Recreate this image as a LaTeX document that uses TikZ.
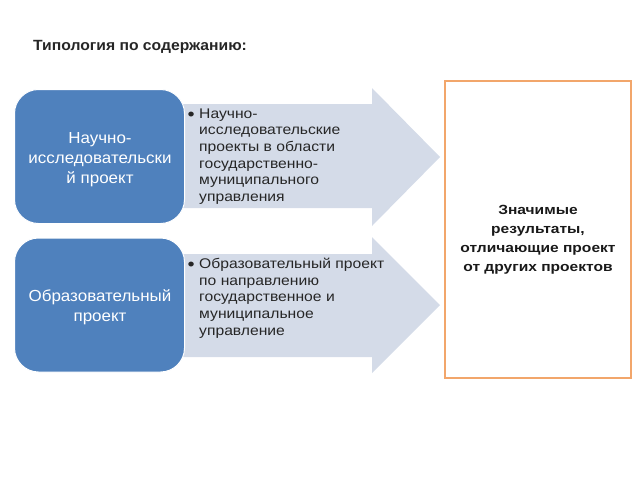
\documentclass[tikz,border=0pt]{standalone}
\usepackage{fontspec}
\setmainfont{Liberation Sans}
\newfontfamily\titlefont[FakeStretch=1.06]{Liberation Sans}
\newfontfamily\boxfont[FakeStretch=1.06]{Liberation Sans}
\newfontfamily\arrowfont[FakeStretch=1.12]{Liberation Sans}
\newfontfamily\resfont[FakeStretch=1.17]{Liberation Sans}
\newcommand{\bigbul}{\raisebox{-2.2pt}{\fontsize{18}{18}\selectfont •}}
\definecolor{boxblue}{HTML}{4F81BD}
\definecolor{arrowfill}{HTML}{D4DBE8}
\definecolor{resorange}{HTML}{F2A66B}
\tikzset{
  typebox/.style={draw=white, line width=1pt, fill=boxblue, rounded corners=24pt,
    minimum width=170pt, minimum height=134pt},
  typetext/.style={anchor=base, inner sep=0pt, text=white, font=\boxfont\fontsize{16}{20}\selectfont},
  bigarrow/.style={fill=arrowfill, draw=none},
  bullettext/.style={anchor=base west, inner sep=0pt, font=\arrowfont\fontsize{14}{16.7}\selectfont, text=black!85},
  resultbox/.style={draw=resorange, line width=1.6pt, fill=white, minimum width=186pt, minimum height=297pt},
  resulttext/.style={anchor=base, inner sep=0pt, font=\resfont\bfseries\fontsize{13.3}{19.3}\selectfont, text=black!90},
}
\begin{document}
\begin{tikzpicture}[x=1pt,y=-1pt]
\useasboundingbox (0,0) rectangle (640,480);
% title
\node[anchor=base west, inner sep=0pt, font=\titlefont\bfseries\fontsize{14.8}{16}\selectfont, text=black!85] (title) at (33,50) {Типология по содержанию:};
% arrows
\path[bigarrow] (150,104) -- (372,104) -- (372,88) -- (440,157) -- (372,226) -- (372,208) -- (150,208) -- cycle;
\path[bigarrow] (150,254) -- (372,254) -- (372,237) -- (440,305) -- (372,373) -- (372,357) -- (150,357) -- cycle;
% blue boxes
\node[typebox] (b1) at (99.5,156.5) {};
\node[typebox] (b2) at (99.5,305) {};
\node[typetext] (b1t) at (100,143.5) {\begin{tabular}[t]{@{}c@{}}Научно-\\исследовательски\\й проект\end{tabular}};
\node[typetext] (b2t) at (100,301) {\begin{tabular}[t]{@{}c@{}}Образовательный\\проект\end{tabular}};
% arrow texts
\node[bullettext] (t1) at (187.5,118) {\begin{tabular}[t]{@{}p{11.5pt}@{}l@{}}
\bigbul & Научно-\\
 & исследовательские\\
 & проекты в области\\
 & государственно-\\
 & муниципального\\
 & управления
\end{tabular}};
\node[bullettext] (t2) at (187.5,268.5) {\begin{tabular}[t]{@{}p{11.5pt}@{}l@{}}
\bigbul & Образовательный проект\\
 & по направлению\\
 & государственное и\\
 & муниципальное\\
 & управление
\end{tabular}};
% result box
\node[resultbox] (res) at (538,229.5) {};
\node[resulttext] (rt) at (538,214) {\begin{tabular}[t]{@{}c@{}}Значимые\\результаты,\\отличающие проект\\от других проектов\end{tabular}};
\end{tikzpicture}
\end{document}
